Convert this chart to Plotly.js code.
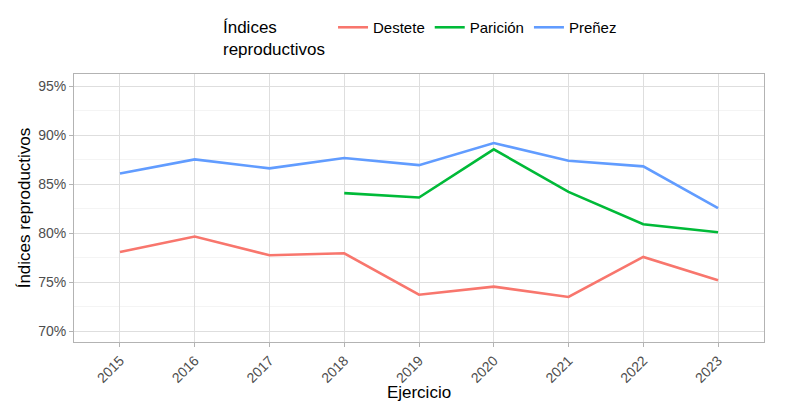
<!DOCTYPE html>
<html><head><meta charset="utf-8">
<script src="https://cdn.plot.ly/plotly-3.0.1.min.js"></script>
<style>body{margin:0;background:#fff}#c{width:790px;height:402px}</style>
</head><body><div id="c"></div>
<script>
const years = ["2015","2016","2017","2018","2019","2020","2021","2022","2023"];
const destete = [78.07, 79.64, 77.73, 77.93, 73.71, 74.53, 73.47, 77.56, 75.18];
const paricionYears = ["2018","2019","2020","2021","2022","2023"];
const paricion = [84.07, 83.63, 88.54, 84.2, 80.9, 80.08];
const prenez = [86.08, 87.52, 86.6, 87.65, 86.93, 89.18, 87.37, 86.8, 82.54];
const yTicks = [70, 75, 80, 85, 90, 95];
const yTickLabels = ["70%", "75%", "80%", "85%", "90%", "95%"];

const font = "Liberation Sans, Arial, sans-serif";
const traces = [
  {x: years, y: destete, name: "Destete", type: "scatter", mode: "lines", line: {color: "#F8766D", width: 2.6}},
  {x: paricionYears, y: paricion, name: "Parición", type: "scatter", mode: "lines", line: {color: "#00BA38", width: 2.6}},
  {x: years, y: prenez, name: "Preñez", type: "scatter", mode: "lines", line: {color: "#619CFF", width: 2.6}}
];
const layout = {
  width: 790, height: 402,
  margin: {l: 74, r: 26, t: 74, b: 60, autoexpand: false},
  paper_bgcolor: "#fff", plot_bgcolor: "#fff",
  font: {family: font, color: "#000"},
  showlegend: true,
  legend: {
    orientation: "h", x: 0.213, xanchor: "left", y: 1.235, yanchor: "top",
    font: {size: 15, family: font, color: "#000"},
    title: {text: "Índices<br>reproductivos", side: "left", font: {size: 17, family: font}},
    itemwidth: 30, tracegroupgap: 0
  },
  xaxis: {
    type: "category", categoryorder: "array", categoryarray: years,
    range: [-0.615, 8.615],
    showgrid: true, gridcolor: "#DEDEDE", gridwidth: 1,
    showline: true, linecolor: "#B3B3B3", mirror: true, linewidth: 1,
    ticks: "outside", ticklen: 4, tickcolor: "#B3B3B3",
    tickangle: -45, tickfont: {size: 14, color: "#4D4D4D", family: font},
    zeroline: false,
    title: {text: "Ejercicio", font: {size: 17, family: font, color: "#000"}, standoff: 2}
  },
  yaxis: {
    range: [68.88, 96.23],
    tickvals: yTicks, ticktext: yTickLabels,
    showgrid: true, gridcolor: "#DEDEDE", gridwidth: 1,
    minor: {tickvals: [72.5, 77.5, 82.5, 87.5, 92.5], showgrid: true, gridcolor: "#EFEFEF", gridwidth: 0.7},
    showline: true, linecolor: "#B3B3B3", mirror: true, linewidth: 1,
    ticks: "outside", ticklen: 4, tickcolor: "#B3B3B3",
    tickfont: {size: 14, color: "#4D4D4D", family: font},
    zeroline: false,
    title: {text: "Índices reproductivos", font: {size: 17, family: font, color: "#000"}, standoff: 3}
  }
};
Plotly.newPlot("c", traces, layout, {displayModeBar: false, staticPlot: true});
</script></body></html>
